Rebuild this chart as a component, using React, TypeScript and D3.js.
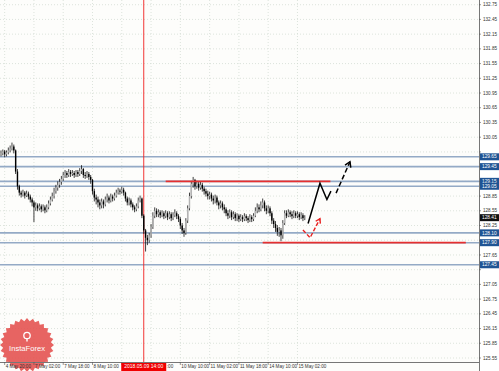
import React from 'react';
import * as d3 from 'd3';

const W = 499;
const H = 371;
const PLOT_RIGHT = 479;
const PLOT_BOTTOM = 362;

// ---- candle data (H1) ----
const firstOpen = 129.70;
const closes = [
  129.72, 129.76, 129.70, 129.74, 129.78, 129.82, 129.86, 129.78, 129.35, 129.05,
  128.92, 128.88, 128.92, 128.86, 128.90, 128.84, 128.78, 128.72, 128.62, 128.66,
  128.60, 128.64, 128.58, 128.62, 128.56, 128.62, 128.70, 128.78, 128.85, 128.95,
  129.02, 129.08, 129.14, 129.20, 129.28, 129.32, 129.28, 129.34, 129.30, 129.32,
  129.28, 129.34, 129.30, 129.36, 129.40, 129.28, 129.26, 129.30, 129.24, 129.18,
  128.95, 128.82, 128.78, 128.72, 128.66, 128.74, 128.68, 128.78, 128.82, 128.76,
  128.84, 128.80, 128.86, 128.92, 128.96, 128.94, 128.98, 128.92, 128.80, 128.72,
  128.76, 128.68, 128.62, 128.58, 128.64, 128.76, 128.80, 128.45, 128.15, 128.00,
  127.95, 128.05, 128.22, 128.45, 128.55, 128.48, 128.52, 128.46, 128.50, 128.44,
  128.50, 128.42, 128.48, 128.40, 128.46, 128.50, 128.44, 128.38, 128.25, 128.15,
  128.10, 128.35, 128.60, 128.85, 129.10, 129.18, 129.05, 129.10, 129.02, 129.08,
  129.00, 128.95, 128.90, 128.85, 128.88, 128.80, 128.76, 128.82, 128.72, 128.66,
  128.70, 128.62, 128.58, 128.50, 128.45, 128.52, 128.42, 128.48, 128.40, 128.45,
  128.38, 128.42, 128.38, 128.44, 128.40, 128.36, 128.42, 128.38, 128.45, 128.55,
  128.62, 128.58, 128.66, 128.72, 128.60, 128.55, 128.60, 128.50, 128.35, 128.28,
  128.20, 128.12, 128.15, 128.05, 128.30, 128.50, 128.45, 128.52, 128.48, 128.44,
  128.50, 128.45, 128.48, 128.42, 128.46, 128.40, 128.41,
];
const highs = [
  129.78, 129.80, 129.79, 129.78, 129.84, 129.88, 129.94, 129.90, 129.80, 129.40,
  129.08, 128.96, 128.98, 128.95, 128.96, 128.94, 128.88, 128.82, 128.76, 128.72,
  128.70, 128.70, 128.68, 128.68, 128.66, 128.68, 128.76, 128.84, 128.92, 129.02,
  129.08, 129.15, 129.20, 129.26, 129.34, 129.38, 129.36, 129.40, 129.38, 129.38,
  129.36, 129.38, 129.38, 129.42, 129.48, 129.42, 129.34, 129.36, 129.34, 129.28,
  129.20, 129.00, 128.88, 128.84, 128.78, 128.80, 128.78, 128.84, 128.90, 128.86,
  128.90, 128.88, 128.92, 128.98, 129.02, 129.00, 129.04, 129.02, 128.94, 128.84,
  128.82, 128.80, 128.72, 128.66, 128.70, 128.82, 128.86, 128.82, 128.48, 128.18,
  128.06, 128.10, 128.28, 128.52, 128.62, 128.60, 128.58, 128.56, 128.56, 128.54,
  128.56, 128.54, 128.54, 128.52, 128.52, 128.58, 128.54, 128.48, 128.42, 128.30,
  128.20, 128.40, 128.66, 128.92, 129.16, 129.24, 129.20, 129.16, 129.14, 129.14,
  129.12, 129.04, 129.00, 128.96, 128.94, 128.92, 128.86, 128.88, 128.86, 128.76,
  128.76, 128.74, 128.68, 128.62, 128.56, 128.58, 128.56, 128.54, 128.52, 128.50,
  128.48, 128.48, 128.46, 128.50, 128.48, 128.44, 128.48, 128.46, 128.50, 128.62,
  128.70, 128.68, 128.74, 128.80, 128.76, 128.66, 128.66, 128.64, 128.54, 128.40,
  128.34, 128.26, 128.22, 128.20, 128.36, 128.56, 128.56, 128.58, 128.56, 128.54,
  128.56, 128.54, 128.54, 128.52, 128.52, 128.50, 128.46,
];
const lows = [
  129.66, 129.68, 129.64, 129.66, 129.70, 129.74, 129.78, 129.72, 129.30, 128.98,
  128.86, 128.82, 128.84, 128.80, 128.83, 128.78, 128.72, 128.64, 128.32, 128.55,
  128.54, 128.56, 128.52, 128.54, 128.50, 128.52, 128.58, 128.66, 128.74, 128.80,
  128.90, 128.96, 129.02, 129.08, 129.16, 129.22, 129.22, 129.24, 129.24, 129.26,
  129.22, 129.24, 129.24, 129.26, 129.30, 129.22, 129.20, 129.22, 129.18, 129.10,
  128.88, 128.74, 128.68, 128.62, 128.58, 128.60, 128.60, 128.64, 128.72, 128.70,
  128.72, 128.74, 128.76, 128.82, 128.88, 128.88, 128.90, 128.86, 128.74, 128.66,
  128.66, 128.62, 128.56, 128.52, 128.54, 128.60, 128.72, 128.40, 128.08, 127.72,
  127.85, 127.90, 128.00, 128.18, 128.40, 128.42, 128.42, 128.40, 128.42, 128.38,
  128.40, 128.36, 128.38, 128.34, 128.36, 128.42, 128.38, 128.32, 128.18, 128.08,
  128.02, 128.06, 128.30, 128.56, 128.80, 129.02, 128.98, 129.00, 128.96, 128.98,
  128.94, 128.88, 128.84, 128.78, 128.78, 128.74, 128.68, 128.70, 128.66, 128.58,
  128.60, 128.56, 128.50, 128.44, 128.38, 128.40, 128.36, 128.38, 128.34, 128.34,
  128.32, 128.34, 128.32, 128.34, 128.34, 128.30, 128.32, 128.32, 128.34, 128.42,
  128.50, 128.52, 128.54, 128.60, 128.54, 128.48, 128.50, 128.44, 128.28, 128.20,
  128.12, 128.04, 128.02, 127.93, 127.98, 128.26, 128.40, 128.42, 128.42, 128.38,
  128.40, 128.40, 128.40, 128.36, 128.38, 128.34, 128.36,
];

// ---- axes ----
const priceTicks = [
  125.55, 125.85, 126.15, 126.45, 126.75, 127.05, 127.35, 127.65, 127.95, 128.25,
  128.55, 128.85, 129.15, 129.45, 129.75, 130.05, 130.35, 130.65, 130.95, 131.25,
  131.55, 131.85, 132.15, 132.45, 132.75,
];
const timeLabels = [
  '4 May 20:00', '7 May 02:00', '7 May 18:00', '8 May 10:00', '9 May 02:00', '9 May 18:00',
  '10 May 10:00', '11 May 02:00', '11 May 18:00', '14 May 10:00', '15 May 02:00',
];
const timeLabelBars = [2, 18, 34, 50, 66, 82, 98, 114, 130, 146, 162];
const cursorBar = 78;
const cursorLabel = '2018.05.09 14:00';

// ---- levels & annotations ----
const levelPrices = [129.65, 129.45, 129.15, 129.05, 128.10, 127.90, 127.45];
const currentPrice = 128.41;
const redLineFrom = [90, 143];
const redLineTo = [180, 254];
const redLinePrices = [129.15, 127.90];
const blackSolidPath: [number, number][] = [[167.8, 128.29], [174.3, 129.11], [178.1, 128.78], [180.3, 128.95]];
const blackDashedPath: [number, number][] = [[183.1, 128.91], [190.7, 129.55]];
const redDashedPath: [number, number][] = [[165.0, 128.16], [168.9, 128.0], [174.3, 128.39]];

const FONT = '"Liberation Sans", Arial, sans-serif';

function arrowHead(path: [number, number][], x: any, y: any, size: number) {
  const a = path[path.length - 2];
  const b = path[path.length - 1];
  const x1 = x(a[0]), y1 = y(a[1]), x2 = x(b[0]), y2 = y(b[1]);
  const ang = Math.atan2(y2 - y1, x2 - x1);
  const w = 0.55;
  const p1 = [x2 - size * Math.cos(ang - w), y2 - size * Math.sin(ang - w)];
  const p2 = [x2 - size * Math.cos(ang + w), y2 - size * Math.sin(ang + w)];
  return `M${p1[0]},${p1[1]}L${x2},${y2}L${p2[0]},${p2[1]}`;
}

export default function App() {
  const x = d3.scaleLinear().domain([0, 166]).range([1, 1 + 166 * 1.83]);
  const y = d3.scaleLinear().domain([125.55, 132.75]).range([358, 4.7]);
  const line = d3.line<[number, number]>().x(d => x(d[0])).y(d => y(d[1]));

  const opens = closes.map((_, i) => (i === 0 ? firstOpen : closes[i - 1]));

  const boxPrices = [...levelPrices, currentPrice];
  const visibleTicks = priceTicks.filter(t => boxPrices.every(p => Math.abs(y(t) - y(p)) > 5.3));

  const cursorX = x(cursorBar);
  const cursorLeft = cursorX - 22.5;
  const cursorRight = cursorX + 22.5;

  // logo starburst
  const teeth = 28;
  const cx = 27, cy = 345;
  const star = d3.range(teeth * 2).map(k => {
    const r = k % 2 === 0 ? 27 : 24;
    const a = (k / (teeth * 2)) * Math.PI * 2;
    return [cx + r * Math.cos(a), cy + r * Math.sin(a)];
  });

  return (
    <svg width={W} height={H} style={{ position: 'absolute', left: 0, top: 0, background: '#fff' }} fontFamily={FONT}>
      <rect x={0} y={0} width={W} height={H} fill="#fdfdfb" />
      {/* grid */}
      {priceTicks.map(t => (
        <line key={'hg' + t} x1={0} x2={PLOT_RIGHT} y1={y(t)} y2={y(t)} stroke="#cfd9cf" strokeWidth={0.7} strokeDasharray="1,2" />
      ))}
      {timeLabelBars.map(b => (
        <line key={'vg' + b} x1={x(b)} x2={x(b)} y1={0} y2={PLOT_BOTTOM} stroke="#cfd9cf" strokeWidth={0.7} strokeDasharray="1,2" />
      ))}

      {/* logo */}
      <g opacity={0.88}>
        <polygon points={star.map(p => p.join(',')).join(' ')} fill="#e5504d" />
        <circle cx={27} cy={335.5} r={3.2} fill="none" stroke="#fff" strokeWidth={1.3} />
        <line x1={27} x2={27} y1={338} y2={341.5} stroke="#fff" strokeWidth={1.4} />
        <text x={27} y={351} fontSize={7.6} fill="#fff" textAnchor="middle">InstaForex</text>
      </g>

      {/* blue levels */}
      {levelPrices.map(p => (
        <line key={'lv' + p} x1={0} x2={PLOT_RIGHT} y1={y(p)} y2={y(p)} stroke="#94aac6" strokeWidth={1.6} />
      ))}

      {/* red cursor line */}
      <line x1={cursorX} x2={cursorX} y1={0} y2={PLOT_BOTTOM} stroke="#f02020" strokeWidth={0.9} />

      {/* candles */}
      {closes.map((c, i) => {
        const o = opens[i];
        const bull = c >= o;
        const top = y(Math.max(o, c));
        const bot = y(Math.min(o, c));
        return (
          <g key={'c' + i}>
            <line x1={x(i)} x2={x(i)} y1={y(highs[i])} y2={y(lows[i])} stroke="#111" strokeWidth={0.8} />
            <rect x={x(i) - 0.7} y={top} width={1.4} height={Math.max(0.6, bot - top)}
              fill={bull ? '#b4b4b4' : '#000'} stroke="none" />
          </g>
        );
      })}

      {/* red horizontal lines */}
      {redLinePrices.map((p, k) => (
        <line key={'rl' + k} x1={x(redLineFrom[k])} x2={x(redLineTo[k])} y1={y(p)} y2={y(p)} stroke="#e53030" strokeWidth={1.8} />
      ))}

      {/* forecast arrows */}
      <path d={line(blackSolidPath) || ''} fill="none" stroke="#000" strokeWidth={1.5} strokeLinejoin="miter" />
      <path d={line(blackDashedPath) || ''} fill="none" stroke="#000" strokeWidth={1.5} strokeDasharray="5,2.5" />
      <path d={arrowHead(blackDashedPath, x, y, 6)} fill="none" stroke="#000" strokeWidth={1.5} />
      <path d={line(redDashedPath) || ''} fill="none" stroke="#e82020" strokeWidth={1.4} strokeDasharray="4,2" />
      <path d={arrowHead(redDashedPath, x, y, 5)} fill="none" stroke="#e82020" strokeWidth={1.4} />

      {/* axes */}
      <rect x={PLOT_RIGHT} y={0} width={W - PLOT_RIGHT} height={H} fill="#fff" />
      <line x1={PLOT_RIGHT + 0.5} x2={PLOT_RIGHT + 0.5} y1={0} y2={H} stroke="#777" strokeWidth={1} />
      <line x1={0} x2={PLOT_RIGHT} y1={PLOT_BOTTOM + 0.5} y2={PLOT_BOTTOM + 0.5} stroke="#777" strokeWidth={1} />
      {priceTicks.map(t => (
        <line key={'ytk' + t} x1={PLOT_RIGHT} x2={PLOT_RIGHT + 2} y1={y(t)} y2={y(t)} stroke="#555" strokeWidth={0.6} />
      ))}
      {visibleTicks.map(t => (
        <text key={'yt' + t} x={483} y={y(t)} dy="0.35em" fontSize={4.6} fill="#333">{t.toFixed(2)}</text>
      ))}
      {timeLabelBars.map((b, k) => {
        const lx = x(b) + 1;
        const underCursor = lx >= cursorLeft && lx < cursorRight;
        const tailVisible = underCursor && lx + 22 > cursorRight;
        return (
          <g key={'xt' + b}>
            <line x1={x(b)} x2={x(b)} y1={PLOT_BOTTOM} y2={PLOT_BOTTOM + 3} stroke="#555" strokeWidth={0.6} />
            {!underCursor ? (
              <text x={lx} y={367.8} fontSize={4.6} fill="#333">{timeLabels[k]}</text>
            ) : tailVisible ? (
              <text x={cursorRight + 0.6} y={367.8} fontSize={4.6} fill="#333">{timeLabels[k].slice(-3)}</text>
            ) : null}
          </g>
        );
      })}

      {/* cursor time label */}
      <rect x={cursorLeft} y={PLOT_BOTTOM + 1} width={45} height={8} fill="#f00000" />
      <text x={cursorX} y={367.8} fontSize={5} fill="#fff" textAnchor="middle">{cursorLabel}</text>

      {/* price labels */}
      {levelPrices.map(p => (
        <g key={'pl' + p}>
          <rect x={PLOT_RIGHT + 1} y={y(p) - 3.5} width={W - PLOT_RIGHT - 1} height={7} fill="#1f5494" />
          <text x={482} y={y(p)} dy="0.35em" fontSize={4.8} fill="#fff">{p.toFixed(2)}</text>
        </g>
      ))}
      <rect x={PLOT_RIGHT + 1} y={y(currentPrice) - 3.5} width={W - PLOT_RIGHT - 1} height={7} fill="#111" />
      <text x={482} y={y(currentPrice)} dy="0.35em" fontSize={4.8} fill="#fff">{currentPrice.toFixed(2)}</text>
    </svg>
  );
}
